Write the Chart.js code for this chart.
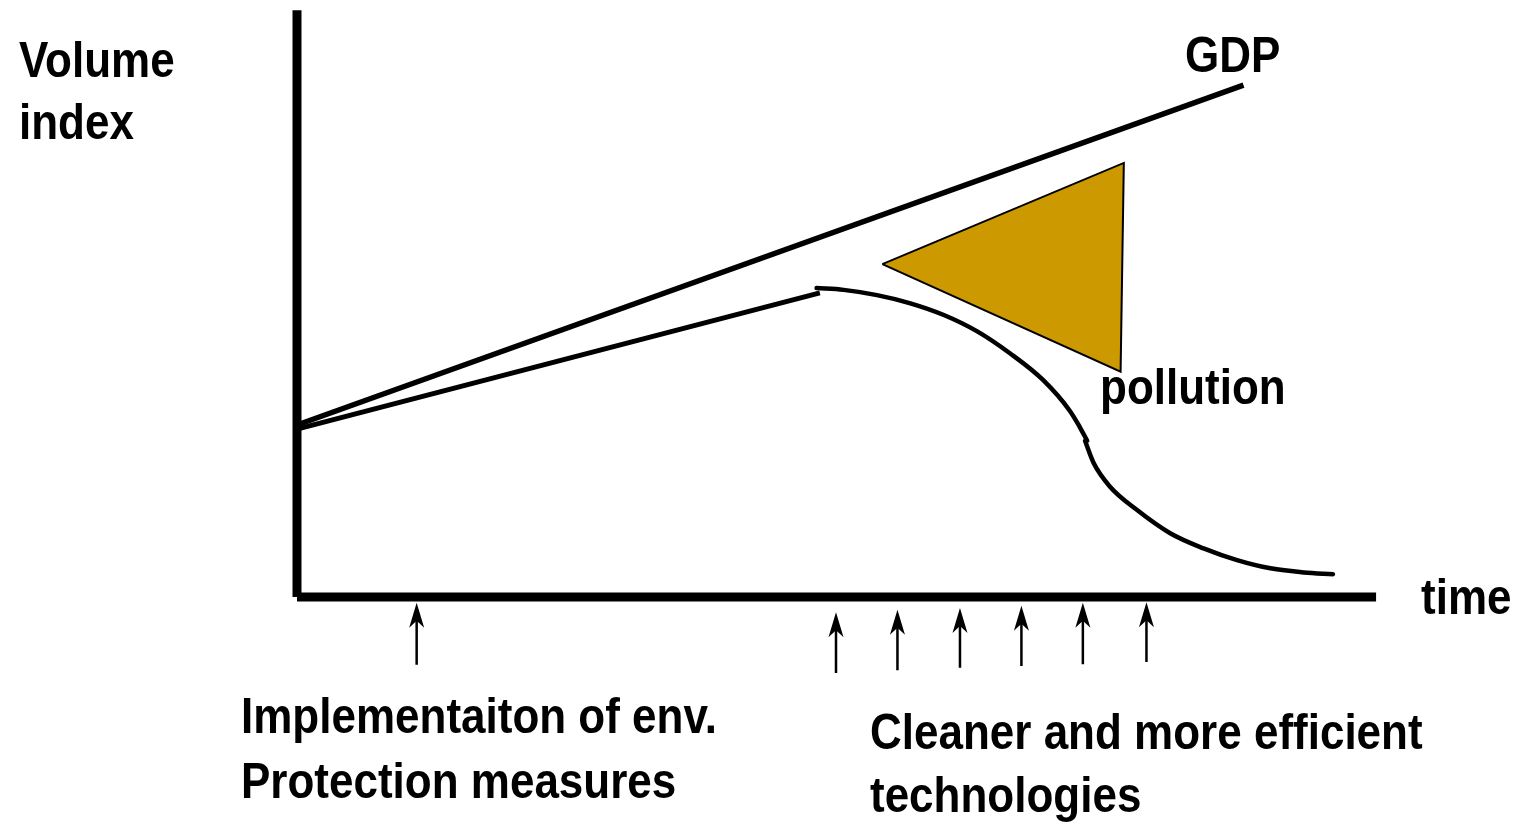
<!DOCTYPE html>
<html>
<head>
<meta charset="utf-8">
<script src="https://cdn.jsdelivr.net/npm/chart.js@4.4.1/dist/chart.umd.min.js"></script>
<style>
  html, body { margin: 0; padding: 0; background: #fff; }
  #wrap { position: relative; width: 1518px; height: 822px; overflow: hidden; }
  #chart { position: absolute; left: 0; top: 0; }
  .lbl {
    position: absolute;
    font-family: "Liberation Sans", Arial, sans-serif;
    font-weight: bold;
    font-size: 50px;
    line-height: 50px;
    color: #000;
    white-space: nowrap;
    transform: scaleX(0.88);
    transform-origin: 0 0;
  }
</style>
</head>
<body>
<div id="wrap">
  <canvas id="chart" width="1518" height="822"></canvas>
  <div class="lbl" style="left:19px; top:35px;">Volume</div>
  <div class="lbl" style="left:19px; top:97px;">index</div>
  <div class="lbl" style="left:1185px; top:30px;">GDP</div>
  <div class="lbl" style="left:1100px; top:362px;">pollution</div>
  <div class="lbl" style="left:1421px; top:572px;">time</div>
  <div class="lbl" style="left:241px; top:691px;">Implementaiton of env.</div>
  <div class="lbl" style="left:241px; top:756px;">Protection measures</div>
  <div class="lbl" style="left:870px; top:707px;">Cleaner and more efficient</div>
  <div class="lbl" style="left:870px; top:770px;">technologies</div>
</div>
<script>
// time runs 0..100 along the x axis, volume index 0..100 up the y axis
var gdpX = [0, 87.8];
var gdpY = [29.4, 87.5];

var pollLineX = [0, 48.5];
var pollLineY = [28.7, 52.0];

// pollution after the measures: a falling arc, then a kink and a flattening tail
var pollArcX = [48.2, 50.7, 53.8, 56.9, 60.0, 63.1, 66.1, 69.2, 71.7, 72.6, 73.3];
var pollArcY = [52.8, 52.5, 51.6, 50.2, 48.2, 45.4, 41.7, 37.1, 31.8, 29.1, 26.7];
var pollTailX = [73.1, 73.9, 75.4, 77.9, 81.0, 84.1, 87.2, 90.3, 93.4, 96.1];
var pollTailY = [26.7, 22.9, 18.9, 14.9, 10.9, 8.3, 6.3, 4.9, 4.2, 3.9];

// the gap between GDP and pollution
var gapX = [54.3, 76.7, 76.4, 54.3];
var gapY = [56.9, 74.2, 38.5, 56.9];

// arrows under the time axis
var arrowX = [11.1, 50.0, 55.7, 61.5, 67.2, 72.9, 78.8];
var arrowTip = [-1.0, -2.6, -2.2, -1.9, -1.5, -1.0, -0.9];
var arrowTail = [-11.6, -13.0, -12.5, -12.1, -11.8, -11.5, -11.1];

var axisX = [0, 100.1];
var axisY = [0, 100.3];

function pts(xs, ys) {
    var out = [];
    for (var i = 0; i < xs.length; i++) {
        out.push({ x: xs[i], y: ys[i] });
    }
    return out;
}

var shafts = [];
for (var i = 0; i < arrowX.length; i++) {
    shafts.push({ x: arrowX[i], y: arrowTail[i] });
    shafts.push({ x: arrowX[i], y: arrowTip[i] - 3.0 });
    shafts.push({ x: arrowX[i], y: null });
}

var arrowHeads = {
    id: 'arrowHeads',
    afterDatasetsDraw: function (chart) {
        var ctx = chart.ctx;
        var xs = chart.scales.x, ys = chart.scales.y;
        ctx.save();
        ctx.fillStyle = '#000';
        for (var i = 0; i < arrowX.length; i++) {
            var px = xs.getPixelForValue(arrowX[i]);
            var py = ys.getPixelForValue(arrowTip[i]);
            ctx.beginPath();
            ctx.moveTo(px, py);
            ctx.lineTo(px + 7.5, py + 25);
            ctx.lineTo(px, py + 18);
            ctx.lineTo(px - 7.5, py + 25);
            ctx.closePath();
            ctx.fill();
        }
        ctx.restore();
    }
};

new Chart(document.getElementById('chart'), {
    type: 'line',
    data: {
        datasets: [
            {
                label: 'y axis',
                data: pts([0, 0], axisY),
                borderColor: '#000',
                borderWidth: 9,
                pointRadius: 0,
                clip: false
            },
            {
                label: 'x axis',
                data: pts(axisX, [0, 0]),
                borderColor: '#000',
                borderWidth: 9,
                pointRadius: 0,
                clip: false
            },
            {
                label: 'GDP',
                data: pts(gdpX, gdpY),
                borderColor: '#000',
                borderWidth: 5.5,
                pointRadius: 0,
                clip: false
            },
            {
                label: 'pollution',
                data: pts(pollLineX, pollLineY),
                borderColor: '#000',
                borderWidth: 5,
                pointRadius: 0,
                clip: false
            },
            {
                label: 'pollution arc',
                data: pts(pollArcX, pollArcY),
                borderColor: '#000',
                borderWidth: 4.5,
                borderCapStyle: 'round',
                cubicInterpolationMode: 'monotone',
                pointRadius: 0,
                clip: false
            },
            {
                label: 'pollution tail',
                data: pts(pollTailX, pollTailY),
                borderColor: '#000',
                borderWidth: 4.5,
                borderCapStyle: 'round',
                cubicInterpolationMode: 'monotone',
                pointRadius: 0,
                clip: false
            },
            {
                label: 'gap',
                data: pts(gapX, gapY),
                borderColor: '#000',
                borderWidth: 2,
                backgroundColor: '#CC9900',
                fill: 'shape',
                borderJoinStyle: 'miter',
                pointRadius: 0,
                clip: false
            },
            {
                label: 'measures',
                data: shafts,
                borderColor: '#000',
                borderWidth: 2.5,
                spanGaps: false,
                pointRadius: 0,
                clip: false
            }
        ]
    },
    options: {
        responsive: false,
        animation: false,
        layout: { padding: { left: 297, right: 143, top: 12, bottom: 225 } },
        plugins: {
            legend: { display: false },
            tooltip: { enabled: false }
        },
        scales: {
            x: { type: 'linear', min: 0, max: 100, display: false },
            y: { type: 'linear', min: 0, max: 100, display: false }
        }
    },
    plugins: [arrowHeads]
});
</script>
</body>
</html>
